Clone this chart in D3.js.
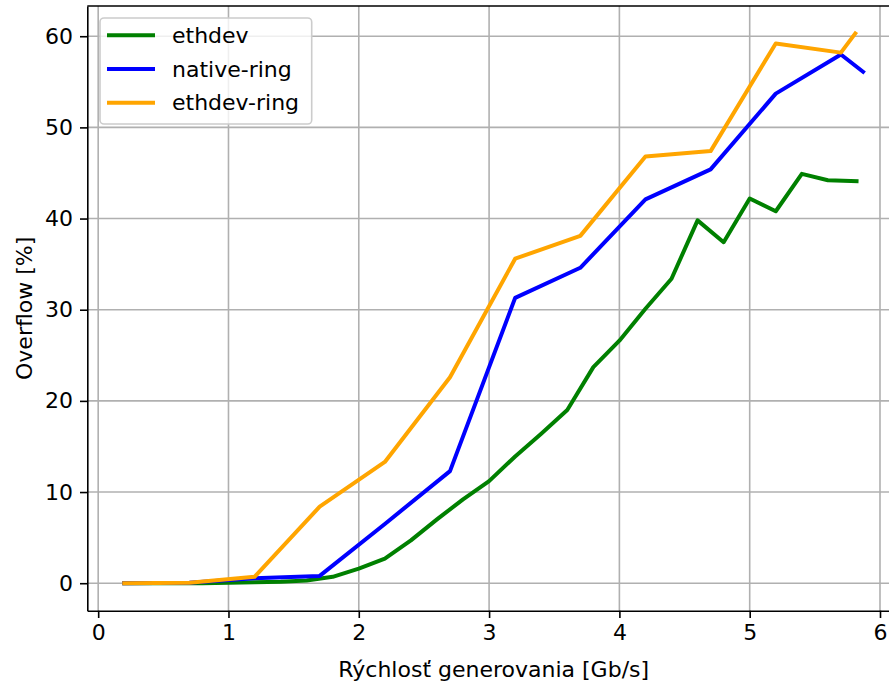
<!DOCTYPE html>
<html>
<head>
<meta charset="utf-8">
<script src="https://cdn.jsdelivr.net/npm/d3@7"></script>
<style>
  body { margin: 0; background: white; }
  svg { display: block; }
  text { font-family: "DejaVu Sans", sans-serif; }
</style>
</head>
<body>
<div class="svg"></div>
<script>
//Data
var ethdevX = [0.2, 0.4, 0.6, 0.8, 1.0, 1.2, 1.4, 1.6, 1.8, 2.0, 2.2, 2.4, 2.6, 2.8, 3.0, 3.2, 3.4, 3.6, 3.8, 4.0, 4.2, 4.4, 4.6, 4.8, 5.0, 5.2, 5.4, 5.6, 5.82];
var ethdevY = [0, 0, 0, 0, 0.05, 0.1, 0.15, 0.3, 0.7, 1.6, 2.7, 4.7, 7.0, 9.2, 11.2, 13.9, 16.4, 19.0, 23.7, 26.6, 30.1, 33.4, 39.8, 37.4, 42.2, 40.8, 44.9, 44.2, 44.1];

var nativeRingX = [0.2, 0.7, 1.2, 1.7, 2.2, 2.7, 3.2, 3.7, 4.2, 4.7, 5.2, 5.7, 5.87];
var nativeRingY = [0, 0.05, 0.55, 0.8, 6.5, 12.3, 31.3, 34.6, 42.1, 45.4, 53.7, 58.0, 56.1];

var ethdevRingX = [0.2, 0.7, 1.2, 1.7, 2.2, 2.7, 3.2, 3.7, 4.2, 4.7, 5.2, 5.7, 5.81];
var ethdevRingY = [0, 0.05, 0.7, 8.4, 13.3, 22.6, 35.6, 38.1, 46.8, 47.4, 59.2, 58.2, 60.3];

var seriesNames = ["ethdev", "native-ring", "ethdev-ring"];
var seriesColors = ["green", "blue", "orange"];

var xTicks = [0, 1, 2, 3, 4, 5, 6];
var yTicks = [0, 10, 20, 30, 40, 50, 60];

//Config
var width = 889,
    height = 684,
    margin = {
      top : 6,
      bottom : 73.3,
      left : 87.3
    },
    plotRightEdge = 900,
    fontSize = 22;

var series = [
  { name : seriesNames[0], color : seriesColors[0], xs : ethdevX, ys : ethdevY },
  { name : seriesNames[1], color : seriesColors[1], xs : nativeRingX, ys : nativeRingY },
  { name : seriesNames[2], color : seriesColors[2], xs : ethdevRingX, ys : ethdevRingY }
];

//Scales (matplotlib style 5% margins)
var allX = ethdevX.concat(nativeRingX, ethdevRingX);
var allY = ethdevY.concat(nativeRingY, ethdevRingY);
var xMin = d3.min(allX), xMax = d3.max(allX);
var yMin = d3.min(allY), yMax = d3.max(allY);
var xPad = (xMax - xMin) * 0.05, yPad = (yMax - yMin) * 0.05;

var x = d3.scaleLinear()
  .domain([xMin - xPad, xMax + xPad])
  .range([margin.left, plotRightEdge]);

var y = d3.scaleLinear()
  .domain([yMin - yPad, yMax + yPad])
  .range([height - margin.bottom, margin.top]);

var plotLeft = margin.left,
    plotRight = plotRightEdge,
    plotTop = margin.top,
    plotBottom = height - margin.bottom;

//Instance element
var svg = d3.select(".svg")
  .append("svg")
  .attr("width", width)
  .attr("height", height);

//Grid
var grid = svg.append("g");

grid.selectAll(".vgrid")
  .data(xTicks)
  .enter()
  .append("line")
  .attr("x1", function (d) { return x(d); })
  .attr("x2", function (d) { return x(d); })
  .attr("y1", plotTop)
  .attr("y2", plotBottom)
  .style("stroke", "#b0b0b0")
  .style("stroke-width", "1.6px");

grid.selectAll(".hgrid")
  .data(yTicks)
  .enter()
  .append("line")
  .attr("x1", plotLeft)
  .attr("x2", plotRight)
  .attr("y1", function (d) { return y(d); })
  .attr("y2", function (d) { return y(d); })
  .style("stroke", "#b0b0b0")
  .style("stroke-width", "1.6px");

//Lines
var line = d3.line()
  .x(function (d) { return x(d[0]); })
  .y(function (d) { return y(d[1]); });

svg.append("g")
  .selectAll("path")
  .data(series)
  .enter()
  .append("path")
  .attr("d", function (d) {
    return line(d.xs.map(function (v, i) { return [v, d.ys[i]]; }));
  })
  .style("fill", "none")
  .style("stroke", function (d) { return d.color; })
  .style("stroke-width", "4px")
  .style("stroke-linejoin", "round")
  .style("stroke-linecap", "square");

//Axes
var xAxis = svg.append("g")
  .attr("transform", "translate(0," + plotBottom + ")")
  .call(d3.axisBottom(x).tickValues(xTicks).tickSize(7.3).tickSizeOuter(0).tickPadding(6).tickFormat(d3.format("d")));

var yAxis = svg.append("g")
  .attr("transform", "translate(" + plotLeft + ",0)")
  .call(d3.axisLeft(y).tickValues(yTicks).tickSize(7.3).tickSizeOuter(0).tickPadding(7).tickFormat(d3.format("d")));

[xAxis, yAxis].forEach(function (ax) {
  ax.selectAll("path").style("stroke", "black").style("stroke-width", "1.6px");
  ax.selectAll("line").style("stroke", "black").style("stroke-width", "1.6px");
  ax.selectAll("text")
    .style("font-size", fontSize + "px")
    .style("font-family", "DejaVu Sans")
    .style("fill", "black");
});

//Top spine
svg.append("line")
  .attr("x1", plotLeft)
  .attr("x2", plotRight)
  .attr("y1", plotTop)
  .attr("y2", plotTop)
  .style("stroke", "black")
  .style("stroke-width", "1.6px");

//Axis labels
svg.append("text")
  .attr("x", (plotLeft + plotRight) / 2)
  .attr("y", 676.5)
  .style("text-anchor", "middle")
  .style("font-size", fontSize + "px")
  .text("Rýchlosť generovania [Gb/s]");

svg.append("text")
  .attr("transform", "translate(31.5," + ((plotTop + plotBottom) / 2) + ") rotate(-90)")
  .style("text-anchor", "middle")
  .style("font-size", fontSize + "px")
  .text("Overflow [%]");

//Legend
var legend = svg.append("g");

legend.append("rect")
  .attr("x", 100)
  .attr("y", 18)
  .attr("width", 211.7)
  .attr("height", 106)
  .attr("rx", 4)
  .style("fill", "white")
  .style("fill-opacity", 0.8)
  .style("stroke", "#cccccc")
  .style("stroke-width", "1.6px");

var legendItems = legend.selectAll(".item")
  .data(series)
  .enter()
  .append("g")
  .attr("transform", function (d, i) { return "translate(0," + (35.3 + i * 33.7) + ")"; });

legendItems.append("line")
  .attr("x1", 107)
  .attr("x2", 155)
  .style("stroke", function (d) { return d.color; })
  .style("stroke-width", "4px");

legendItems.append("text")
  .attr("x", 172)
  .attr("y", 7.5)
  .style("font-size", fontSize + "px")
  .text(function (d) { return d.name; });
</script>
</body>
</html>
